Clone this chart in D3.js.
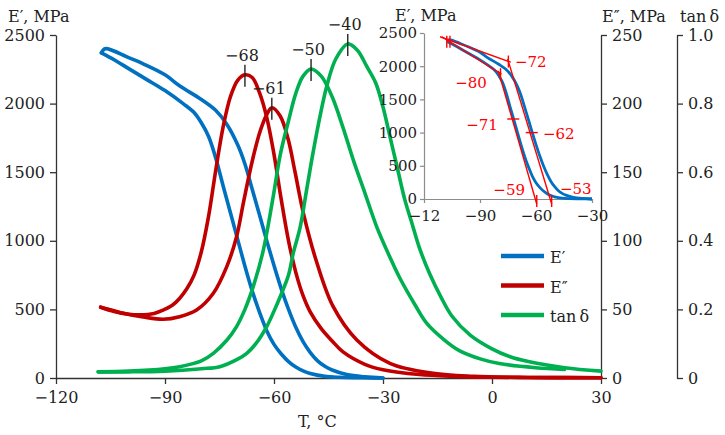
<!DOCTYPE html>
<html>
<head>
<meta charset="utf-8">
<script src="https://cdn.jsdelivr.net/npm/d3@7"></script>
<style>
  body { margin: 0; background: #fff; }
  .axis path, .axis line { stroke: #333; stroke-width: 1.3; }
  .inset .axis path, .inset .axis line { stroke: #8c8c8c; stroke-width: 1.2; }
</style>
</head>
<body>
<script>
// storage modulus E' (MPa) - two runs
var eStoreAT = [-107.5,-104,-100,-95,-90,-85,-82,-80,-78,-76,-74,-72,-70,-68,-66,-64,-62,-60,-58,-56,-54,-52,-50,-46,-42,-36,-30];
var eStoreA  = [2370,2320,2255,2175,2095,2000,1935,1860,1760,1600,1400,1205,1010,815,635,480,345,245,175,120,80,52,33,12,5,2,0];
var eStoreBT = [-107.5,-106.5,-100,-96,-90,-86,-80,-76,-73,-70,-68,-66,-64,-62,-60,-58,-56,-54,-52,-50,-48,-46,-44,-40,-35,-30];
var eStoreB  = [2370,2400,2335,2290,2210,2130,2030,1950,1850,1700,1560,1375,1190,1000,820,650,500,370,265,185,125,85,58,25,8,0];

// loss modulus E'' (MPa)
var eLossAT = [-107.7,-104,-100,-97,-93,-90.5,-88,-86,-84,-82,-80,-78,-76,-74,-72,-70,-68,-66,-64,-62,-60,-58,-56,-54,-52,-50,-47,-44,-41,-35,-30,-20,-10,0,15,30];
var eLossA  = [51.6,48.5,46.5,46,47,49.5,53,58,65,75,92,118,152,183,205,217,221,219,208,190,163,130,100,77,60,48,36,27,19,10,6,2.5,1.2,0.6,0.3,0.2];
var eLossBT = [-107.7,-104,-101.5,-96,-90.5,-86,-81.3,-76.7,-73,-70.3,-68.4,-66,-63.8,-62,-60.6,-58.3,-56.1,-54.2,-51.9,-48.2,-43.7,-37.2,-28.1,-16.2,-5,10,30];
var eLossB  = [51.6,49,47.2,44.5,42.8,44.7,49.6,61.8,81.2,103,128,158,180,192,197,191,174,150,120,84,52,27.7,10.7,3.4,1.2,0.4,0.2];

// tan delta
var tanAT = [-108.4,-100,-90,-86,-80,-76.7,-73,-70.3,-68,-65.7,-63,-60.2,-58.3,-56,-54,-52,-49.8,-47,-44,-41,-38,-35,-31.7,-28,-25.3,-21,-18,-13,-9,-3,2,12,20];
var tanA  = [0.018,0.02,0.027,0.033,0.05,0.072,0.11,0.15,0.2,0.267,0.37,0.53,0.65,0.75,0.83,0.88,0.901,0.88,0.82,0.73,0.63,0.54,0.44,0.35,0.29,0.21,0.16,0.11,0.08,0.055,0.042,0.03,0.025];
var tanBT = [-108.4,-100,-90,-80,-74.9,-70,-67.5,-65,-62,-60,-58.3,-56,-54.7,-52.8,-51,-49.2,-47,-45.5,-43,-39.7,-37,-34.5,-32,-30,-28,-26,-24,-22,-20,-17,-14,-11,-6,0,5,10,20,30];
var tanB  = [0.018,0.018,0.02,0.027,0.033,0.055,0.072,0.1,0.15,0.195,0.237,0.3,0.364,0.44,0.55,0.66,0.78,0.85,0.93,0.974,0.955,0.909,0.86,0.79,0.7,0.61,0.52,0.45,0.38,0.3,0.235,0.18,0.125,0.085,0.062,0.048,0.03,0.02];

// peak annotations
var peakLabels = ["\u221268","\u221261","\u221250","\u221240"];
var peakSeries = ["eLossA","eLossB","tanA","tanB"];

// tick values
var xTicks = [-120,-90,-60,-30,0,30];
var eTicks = [0,500,1000,1500,2000,2500];
var lossTicks = [0,50,100,150,200,250];
var tanTicks = [0,0.2,0.4,0.6,0.8,1.0];
var tanTickLabels = ["0","0.2","0.4","0.6","0.8","1.0"];

// inset
var insetXTicks = [-120,-90,-60,-30];
var insetXLabels = ["\u221212","\u221290","\u221260","\u221230"];
var tangentLines = [
  [[-110.5,2444],[-78.5,1880]],
  [[-111.4,2444],[-73.5,2060]],
  [[-80.2,1930],[-59.6,-75]],
  [[-75.2,2110],[-51.6,-75]]
];
var markT   = [-107.8,-106.1,-74.8,-79,-72.2,-62.3,-59.6,-51.6];
var markE   = [2370,2370,2070,1880,1205,1000,-30,-30];
var markDir = ["v","v","v","v","h","h","v","v"];
var noteText = ["\u221272","\u221280","\u221271","\u221262","\u221259","\u221253"];
var noteT    = [-71.3,-86.3,-80.4,-56.3,-65.9,-47.2];
var noteE    = [1988,1672,1039,904,60,75];
var noteAnchor = ["start","end","end","start","end","start"];

var blue = "#0070C0", red = "#C00000", green = "#00B050";
var serif = "'DejaVu Serif', 'Liberation Serif', serif";

var svg = d3.select("body").append("svg")
    .attr("width", 725)
    .attr("height", 435);

var x = d3.scaleLinear().domain([-120, 30]).range([56, 601]);
var yE = d3.scaleLinear().domain([0, 2500]).range([378, 35]);
var yLoss = d3.scaleLinear().domain([0, 250]).range([378, 35]);
var yTan = d3.scaleLinear().domain([0, 1]).range([378, 35]);

function zip(t, v) { return t.map(function (d, i) { return [d, v[i]]; }); }

function styleAxis(g, size) {
    g.attr("font-family", null);
    g.selectAll("text")
        .attr("font-family", serif)
        .style("font-size", size + "px")
        .style("fill", "#222");
}

// axes
svg.append("g").attr("class", "axis")
    .attr("transform", "translate(0,378)")
    .call(d3.axisBottom(x).tickValues(xTicks).tickSize(6).tickSizeOuter(0).tickPadding(8))
    .call(styleAxis, 16);
svg.append("g").attr("class", "axis")
    .attr("transform", "translate(56,0)")
    .call(d3.axisLeft(yE).tickValues(eTicks).tickSize(6).tickSizeOuter(0).tickPadding(5).tickFormat(d3.format("d")))
    .call(styleAxis, 16);
svg.append("g").attr("class", "axis")
    .attr("transform", "translate(601,0)")
    .call(d3.axisRight(yLoss).tickValues(lossTicks).tickSize(6).tickSizeOuter(0).tickPadding(5))
    .call(styleAxis, 16);
svg.append("g").attr("class", "axis")
    .attr("transform", "translate(677,0)")
    .call(d3.axisRight(yTan).tickValues(tanTicks).tickSize(6).tickSizeOuter(0).tickPadding(5)
        .tickFormat(function (d, i) { return tanTickLabels[i]; }))
    .call(styleAxis, 16);

// axis titles
var titles = [["E\u2032, MPa", 8, 22], ["E\u2033, MPa", 602, 22], ["tan\u2009\u03b4", 680, 22], ["T, \u00b0C", 298, 427]];
svg.selectAll(".title").data(titles).enter().append("text")
    .attr("class", "title")
    .attr("x", function (d) { return d[1]; })
    .attr("y", function (d) { return d[2]; })
    .attr("font-family", serif)
    .style("font-size", "16px")
    .style("fill", "#222")
    .text(function (d) { return d[0]; });

// curves
var series = {
    eStoreA: { pts: zip(eStoreAT, eStoreA), y: yE, color: blue },
    eStoreB: { pts: zip(eStoreBT, eStoreB), y: yE, color: blue },
    eLossA: { pts: zip(eLossAT, eLossA), y: yLoss, color: red },
    eLossB: { pts: zip(eLossBT, eLossB), y: yLoss, color: red },
    tanA: { pts: zip(tanAT, tanA), y: yTan, color: green },
    tanB: { pts: zip(tanBT, tanB), y: yTan, color: green }
};

Object.keys(series).forEach(function (k) {
    var s = series[k];
    var line = d3.line()
        .x(function (d) { return x(d[0]); })
        .y(function (d) { return s.y(d[1]); })
        .curve(d3.curveCatmullRom.alpha(0.5));
    svg.append("path")
        .datum(s.pts)
        .attr("d", line)
        .attr("fill", "none")
        .attr("stroke", s.color)
        .attr("stroke-width", 3.6)
        .attr("stroke-linejoin", "round")
        .attr("stroke-linecap", "round");
});

// peak markers
peakSeries.forEach(function (k, i) {
    var s = series[k];
    var top = s.pts.reduce(function (a, b) { return b[1] > a[1] ? b : a; });
    var px = x(top[0]), py = s.y(top[1]);
    svg.append("line")
        .attr("x1", px).attr("x2", px)
        .attr("y1", py - 10).attr("y2", py + 12)
        .attr("stroke", "#222").attr("stroke-width", 1.4);
    svg.append("text")
        .attr("x", px - 3).attr("y", py - 14)
        .attr("text-anchor", "middle")
        .attr("font-family", serif)
        .style("font-size", "16px").style("fill", "#222")
        .text(peakLabels[i]);
});

// legend
var legend = [["E\u2032", blue], ["E\u2033", red], ["tan\u2009\u03b4", green]];
var lg = svg.append("g").attr("transform", "translate(501,256)");
legend.forEach(function (d, i) {
    lg.append("line")
        .attr("x1", 0).attr("x2", 43)
        .attr("y1", i * 29.5).attr("y2", i * 29.5)
        .attr("stroke", d[1]).attr("stroke-width", 4.5);
    lg.append("text")
        .attr("x", 49).attr("y", i * 29.5 + 7)
        .attr("font-family", serif)
        .style("font-size", "16px").style("fill", "#222")
        .text(d[0]);
});

// inset
var inset = svg.append("g").attr("class", "inset");
var ix = d3.scaleLinear().domain([-120, -30]).range([424, 592]);
var iy = d3.scaleLinear().domain([0, 2500]).range([199, 33]);

inset.append("g").attr("class", "axis")
    .attr("transform", "translate(0,199)")
    .call(d3.axisBottom(ix).tickValues(insetXTicks).tickSize(4).tickSizeOuter(0).tickPadding(7)
        .tickFormat(function (d, i) { return insetXLabels[i]; }))
    .call(styleAxis, 15);
inset.append("g").attr("class", "axis")
    .attr("transform", "translate(424,0)")
    .call(d3.axisLeft(iy).tickValues(eTicks).tickSize(4).tickSizeOuter(0).tickPadding(3).tickFormat(d3.format("d")))
    .call(styleAxis, 15);
inset.append("text")
    .attr("x", 395).attr("y", 21)
    .attr("font-family", serif)
    .style("font-size", "16px").style("fill", "#222")
    .text("E\u2032, MPa");

[series.eStoreA, series.eStoreB].forEach(function (s) {
    inset.append("path")
        .datum(s.pts)
        .attr("d", d3.line()
            .x(function (d) { return ix(d[0]); })
            .y(function (d) { return iy(d[1]); })
            .curve(d3.curveCatmullRom.alpha(0.5)))
        .attr("fill", "none")
        .attr("stroke", blue)
        .attr("stroke-width", 2.8);
});

tangentLines.forEach(function (l) {
    inset.append("line")
        .attr("x1", ix(l[0][0])).attr("y1", iy(l[0][1]))
        .attr("x2", ix(l[1][0])).attr("y2", iy(l[1][1]))
        .attr("stroke", "#FF0000").attr("stroke-width", 1.4);
});

markT.forEach(function (t, i) {
    var mx = ix(t), my = iy(markE[i]);
    var m = inset.append("line").attr("stroke", "#FF0000").attr("stroke-width", 1.4);
    if (markDir[i] === "v") {
        m.attr("x1", mx).attr("x2", mx).attr("y1", my - 6).attr("y2", my + 6);
    } else {
        m.attr("x1", mx - 6).attr("x2", mx + 6).attr("y1", my).attr("y2", my);
    }
});

noteText.forEach(function (t, i) {
    inset.append("text")
        .attr("x", ix(noteT[i])).attr("y", iy(noteE[i]))
        .attr("text-anchor", noteAnchor[i])
        .attr("font-family", serif)
        .style("font-size", "15px").style("fill", "#FF0000")
        .text(t);
});
</script>
</body>
</html>
